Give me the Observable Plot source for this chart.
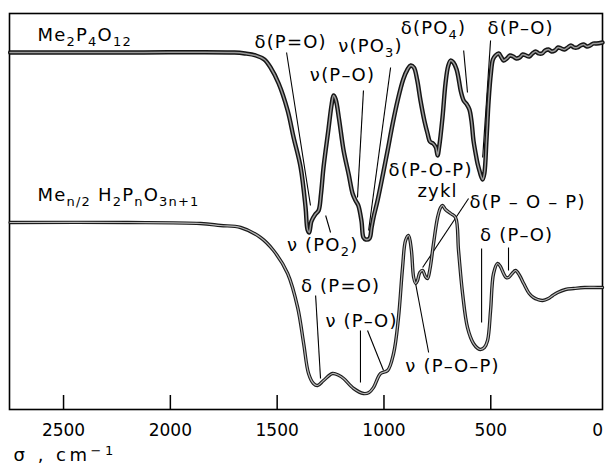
<!DOCTYPE html>
<html>
<head>
<meta charset="utf-8">
<script src="https://cdn.jsdelivr.net/npm/d3@7"></script>
<script src="https://cdn.jsdelivr.net/npm/@observablehq/plot@0.6"></script>
<style>
  html, body { margin: 0; padding: 0; background: white; }
</style>
</head>
<body>
<div id="chart"></div>
<script>
// Wavenumber axis (cm^-1) and relative transmission (arbitrary units)
const wnTop = [2750,2200,1700,1650,1600,1560,1531,1493,1451,1423,1390,1367,1358,1350,1340,1322,1306,1295,1283,1260,1245,1236,1226,1210,1189,1165,1147,1133,1120,1105,1096,1085,1068,1058,1049,1030,1005,983,960,936,910,890,875,860,845,829,810,796,785,770,757,749,742,726,712,700,688,675,660,650,640,627,612,600,590,581,570,562,552,545,538,530,520,510,500,490,478,463,450,440,425,410,395,380,365,350,335,320,305,290,275,260,245,230,215,200,185,170,155,140,125,110,95,80,65,50,35,20,5,-23];
const tTop = [357,357,357,356,354,350,342,326,299,272,242,202,180,177,188,195,199,215,242,280,305,314,310,290,259,235,216,209,204,188,172,170,171,182,192,209,235,259,285,309,330,340,344,342,330,309,288,276,268,266,262,254,262,292,326,343,349,347,340,330,318,309,305,300,288,269,255,246,238,233,230,236,270,309,335,350,354,356,352,349,351,354,353,351,352,355,354,353,356,358,356,356,359,360,358,359,362,361,360,362,364,362,362,364,365,363,364,366,366,367];

const wnBot = [2750,2200,1859,1765,1671,1578,1517,1451,1404,1376,1353,1330,1311,1283,1241,1210,1189,1142,1096,1070,1049,1016,983,955,932,913,899,885,872,861,851,843,832,819,806,796,785,768,749,735,726,712,688,665,651,632,609,581,560,548,530,515,501,487,468,455,440,428,417,400,384,365,346,320,300,280,257,230,210,187,150,112,60,0,-23];
const tBot = [187,187,186,184,182,172,159,136,102,66,36,26,24,29,36,34,31,21,16,17,22,36,39,56,92,142,169,174,160,132,126,129,137,139,133,131,140,166,192,202,204,200,196,192,159,116,82,66,61,60,62,69,99,136,146,143,136,132,132,136,139,134,126,116,112,110,109,111,114,117,120,121,122,122,122];

// Tick labels
const tickValues = [2500, 2000, 1500, 1000, 500, 0];
const tickMarks = [2500, 2000, 1500, 1000, 500];

// Compound names (left-aligned)
const nameText  = ["Me_{2}P_{4}O_{12}", "Me_{n/2} H_{2}P_{n}O_{3n+1}"];
const nameWn    = [2622, 2622];
const nameLevel = [374, 214];

// Band assignments (centred): text, wavenumber, level
const labelText = ["δ(P=O)", "ν(PO_{3})", "ν(P–O)", "δ(PO_{4})", "δ(P–O)", "δ(P-O-P)", "zykl", "δ(P – O – P)", "δ (P–O)", "ν (PO_{2})", "δ (P=O)", "ν (P–O)", "ν (P–O–P)"];
const labelWn    = [1437, 1063, 1194, 768, 360, 782, 749, 328, 379, 1287, 1203, 1105, 679];
const labelLevel = [367, 363, 334, 381, 381, 239, 218, 207, 174, 164, 123, 88, 43];

// Leader lines: from (wn1, level1) to (wn2, level2)
const leadWn1 = [1456, 969, 1096, 627, 501, 1273, 1320, 1110, 1077, 791, 604, 543, 417];
const leadL1  = [357, 342, 319, 359, 369, 194, 114, 79, 79, 57, 211, 161, 162];
const leadWn2 = [1344, 1072, 1124, 609, 538, 1250, 1297, 1110, 1002, 852, 819, 543, 417];
const leadL2  = [204, 179, 212, 317, 252, 177, 31, 27, 39, 126, 142, 87, 139];

const axisLabel = "σ , cm^{−1}";

const topData = wnTop.map((w, i) => ({w, t: tTop[i]}));
const botData = wnBot.map((w, i) => ({w, t: tBot[i]}));
const names = nameText.map((s, i) => ({s, w: nameWn[i], t: nameLevel[i]}));
const labels = labelText.map((s, i) => ({s, w: labelWn[i], t: labelLevel[i]}));
const leaders = leadWn1.map((w, i) => ({w1: w, t1: leadL1[i], w2: leadWn2[i], t2: leadL2[i]}));

const font = "DejaVu Sans";
const chart = Plot.plot({
  width: 608,
  height: 469,
  marginLeft: 9,
  marginRight: 6,
  marginTop: 13,
  marginBottom: 60,
  style: {fontFamily: font, fontSize: "17px", background: "white", color: "black"},
  x: {domain: [2753, -23], ticks: tickValues, tickSize: 0, tickPadding: 14, tickFormat: d => `${d}`, label: null},
  y: {domain: [0, 396], axis: null},
  marks: [
    Plot.frame({stroke: "black", strokeWidth: 1.6}),
    Plot.ruleX(tickMarks, {y1: 0, y2: 14, stroke: "black", strokeWidth: 1.5}),
    Plot.link(leaders, {x1: "w1", y1: "t1", x2: "w2", y2: "t2", stroke: "black", strokeWidth: 1.1}),
    Plot.line(botData, {x: "w", y: "t", stroke: "#1c1c1c", strokeWidth: 3.4, curve: "catmull-rom"}),
    Plot.line(botData, {x: "w", y: "t", stroke: "#b8b8b8", strokeWidth: 1.2, curve: "catmull-rom"}),
    Plot.line(topData, {x: "w", y: "t", stroke: "#151515", strokeWidth: 4.4, curve: "catmull-rom"}),
    Plot.line(topData, {x: "w", y: "t", stroke: "#9a9a9a", strokeWidth: 1.5, curve: "catmull-rom"}),
    Plot.text(names, {x: "w", y: "t", text: "s", textAnchor: "start", fontSize: 18, fill: "black"}),
    Plot.text(labels, {x: "w", y: "t", text: "s", textAnchor: "middle", fontSize: 18, fill: "black"}),
    Plot.text([axisLabel], {text: d => d, frameAnchor: "bottom-left", dx: 4, dy: 51, textAnchor: "start", fontSize: 18, fill: "black"})
  ]
});

// Turn _{..} and ^{..} into real subscripts / superscripts
const NS = "http://www.w3.org/2000/svg";
chart.querySelectorAll("text").forEach(t => {
  const s = t.textContent;
  const isAnno = /[_^]\{|[δνσz]/.test(s);
  if (isAnno) t.setAttribute("letter-spacing", s.startsWith("σ") ? "3.5" : "1.2");
  if (!/[_^]\{/.test(s)) return;
  const segs = [];
  const re = /([_^])\{([^}]*)\}/g;
  let last = 0, m;
  while ((m = re.exec(s))) {
    if (m.index > last) segs.push({txt: s.slice(last, m.index), mode: 0});
    segs.push({txt: m[2], mode: m[1] === "_" ? 1 : -1});
    last = re.lastIndex;
  }
  if (last < s.length) segs.push({txt: s.slice(last), mode: 0});
  while (t.firstChild) t.removeChild(t.firstChild);
  let shift = 0;
  for (const seg of segs) {
    const ts = document.createElementNS(NS, "tspan");
    ts.textContent = seg.txt;
    const target = seg.mode === 1 ? 5 : seg.mode === -1 ? -6 : 0;
    if (target !== shift) ts.setAttribute("dy", `${target - shift}`);
    shift = target;
    if (seg.mode !== 0) ts.setAttribute("font-size", "13");
    t.appendChild(ts);
  }
});

document.getElementById("chart").appendChild(chart);
</script>
</body>
</html>
